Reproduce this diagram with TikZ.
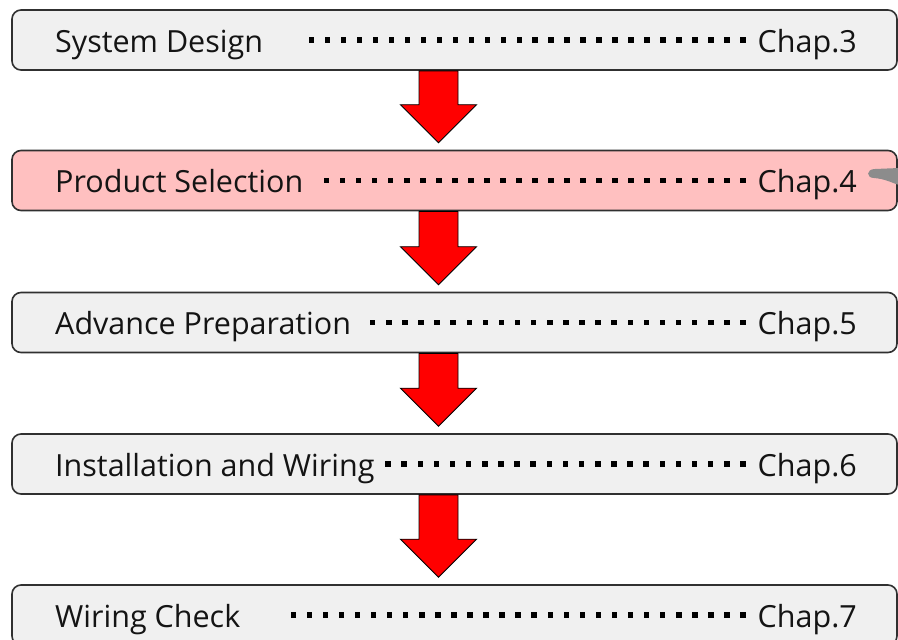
\documentclass[tikz,border=0pt]{standalone}
\usepackage{fontspec}
\setmainfont{Open Sans}
\usetikzlibrary{calc}
\definecolor{boxgray}{HTML}{F0F0F0}
\definecolor{boxpink}{HTML}{FFC0C0}
\definecolor{edgegray}{HTML}{303030}
\tikzstyle{stepbox} = [draw=edgegray, line width=1.6pt, rounded corners=9pt, minimum width=885pt, minimum height=60pt, inner sep=0pt]
\tikzstyle{steptext} = [anchor=base west, inner sep=0pt, text=black!92, font=\fontsize{30.5}{33}\selectfont]
\tikzstyle{chaptext} = [anchor=base east, inner sep=0pt, text=black!92, font=\fontsize{30.5}{33}\selectfont]
\tikzstyle{leader} = [fill=black]
\tikzstyle{bigarrow} = [fill=red, draw=black, line width=0.9pt, line join=miter]
\tikzstyle{pointer} = [fill=black!45]

% block arrow from the bottom of one step to the top of the next
\newcommand{\flowarrow}[2]{%
  \draw[bigarrow] let \p1=(#1.south), \p2=(#2.north) in
    (\x1-35.5pt,\y1) -- (\x1-35.5pt,\y2+45pt) -- (\x1-54pt,\y2+45pt)
    -- (\x1-16pt,\y2+7pt) -- (\x1+22pt,\y2+45pt) -- (\x1+3.5pt,\y2+45pt)
    -- (\x1+3.5pt,\y1) -- cycle;}

\begin{document}
\begin{tikzpicture}[x=1pt, y=-1pt]
\useasboundingbox (0,0) rectangle (898,640);

% steps: name / centre y / title / chapter / fill / first dot x / dot count
\foreach \i/\yc/\txt/\chap/\col/\dx/\dn in {
    1/40/System Design/3/boxgray/311.5/28,
    2/180.5/Product Selection/4/boxpink/326.7/27,
    3/322.5/Advance Preparation/5/boxgray/372.7/24,
    4/464/Installation and Wiring/6/boxgray/388/23,
    5/615/Wiring Check/7/boxgray/293.3/29} {
  \node (s\i) [stepbox, fill=\col] at (454.5,\yc) {};
  \node (t\i) [steptext] at (55,\yc+12) {\txt};
  \node (c\i) [chaptext] at (857,\yc+12) {Chap.\chap};
  \foreach \k in {1,...,\dn}
    \fill[leader] ({\dx+(\k-1)*(743-\dx)/(\dn-1)-2.75},\yc-2.75) rectangle ++(5.5,5.5);
}

\flowarrow{s1}{s2}
\flowarrow{s2}{s3}
\flowarrow{s3}{s4}
\flowarrow{s4}{s5}

% tail of a pointer coming in at the right
\fill[pointer] (899,168) -- (875,169) .. controls (866,169) and (866,178) .. (874,178)
  .. controls (886,179) and (892,183) .. (899,185) -- cycle;
\end{tikzpicture}
\end{document}
